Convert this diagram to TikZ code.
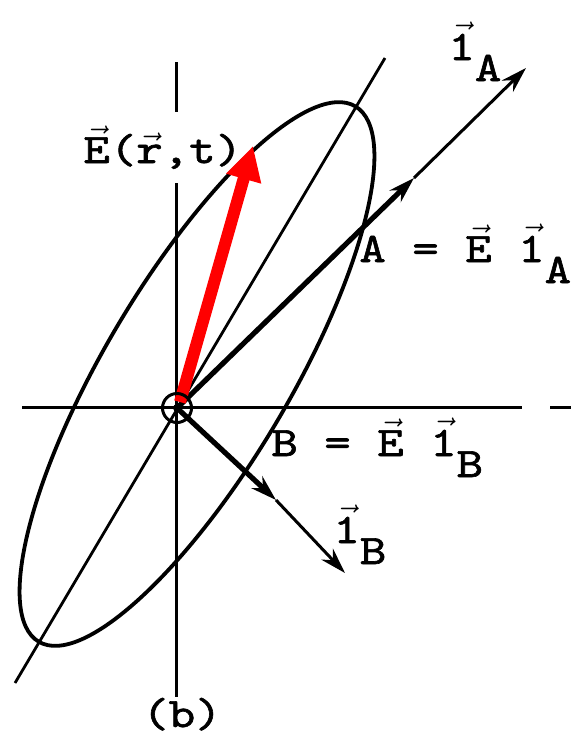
\documentclass[tikz,border=0pt]{standalone}
\usepackage{fontspec}
\newfontfamily\typer{lmmono10-regular.otf}[FakeStretch=1.2, FakeBold=1.5]
\usetikzlibrary{arrows.meta}

\newcommand{\lowr}[1]{\raisebox{-10.5pt}{#1}}
\newcommand{\uvec}[1]{$\vec{\mbox{#1}}$}

\begin{document}
\begin{tikzpicture}[
    x=0.5pt, y=-0.5pt,
    axis/.style={draw=black, line width=1.5pt},
    guide/.style={draw=black, line width=1.4pt},
    orbit/.style={draw=black, line width=1.9pt},
    vector/.style={draw=black, line width=2.6pt,
        -{Stealth[length=13pt, width=8pt]}},
    unit ray/.style={draw=black, line width=1.5pt,
        -{Stealth[length=13pt, width=8pt]}},
    field/.style={draw=red, line width=6pt,
        -{Triangle[length=17pt, width=17pt]}},
    ring/.style={draw=black, circle, line width=1.5pt,
        minimum size=14.5pt, inner sep=0pt},
    hub/.style={fill=black, circle, minimum size=4pt, inner sep=0pt},
    tlabel/.style={font=\typer\fontsize{21}{24}\selectfont,
        inner sep=0pt, anchor=base west}
]
    \path[use as bounding box] (0,0) rectangle (571,734);

    % The axes, broken under the field label and at the right.
    \coordinate (O) at (177,408);
    \coordinate (hL) at (22,407);
    \coordinate (hR) at (522,407);
    \coordinate (hR2) at (550,407);
    \coordinate (hE) at (571,407);
    \coordinate (vT) at (176,62);
    \coordinate (vT2) at (176,112);
    \coordinate (vB2) at (176,183);
    \coordinate (vB) at (176,697);
    \draw[axis] (hL) -- (hR);
    \draw[axis] (hR2) -- (hE);
    \draw[axis] (vT) -- (vT2);
    \draw[axis] (vB2) -- (vB);

    % The polarization ellipse and its major axis.
    \coordinate (mL) at (15,683);
    \coordinate (mU) at (385,58);
    \coordinate (C) at (197,374);
    \draw[guide] (mL) -- (mU);
    \draw[orbit, rotate around={59.4:(C)}] (C) ellipse [x radius=311, y radius=93];

    % The components along 1_A and 1_B.
    \coordinate (Amid) at (414,178);
    \coordinate (Atip) at (526,68);
    \coordinate (Bmid) at (276,500);
    \coordinate (Btip) at (345,573);
    \draw[vector] (O) -- (Amid);
    \draw[unit ray] (Amid) -- (Atip);
    \draw[vector] (O) -- (Bmid);
    \draw[unit ray] (Bmid) -- (Btip);

    % The field vector.
    \coordinate (Etail) at (180,402);
    \coordinate (Etip) at (253,146);
    \draw[field] (Etail) -- (Etip);

    \node[ring] (src) at (O) {};
    \node[hub] (srcdot) at (O) {};

    \node[tlabel] (lE) at (83,163) {\uvec{E}(\uvec{r},t)};
    \node[tlabel] (l1A) at (448,60) {\uvec{1}\lowr{A}};
    \node[tlabel] (lA) at (359,262) {A = \uvec{E} \uvec{1}\lowr{A}};
    \node[tlabel] (lB) at (271,456) {B = \uvec{E} \uvec{1}\lowr{B}};
    \node[tlabel] (l1B) at (333,543) {\uvec{1}\lowr{B}};
    \node[tlabel, anchor=base] (cap) at (182,727) {(b)};
\end{tikzpicture}
\end{document}
